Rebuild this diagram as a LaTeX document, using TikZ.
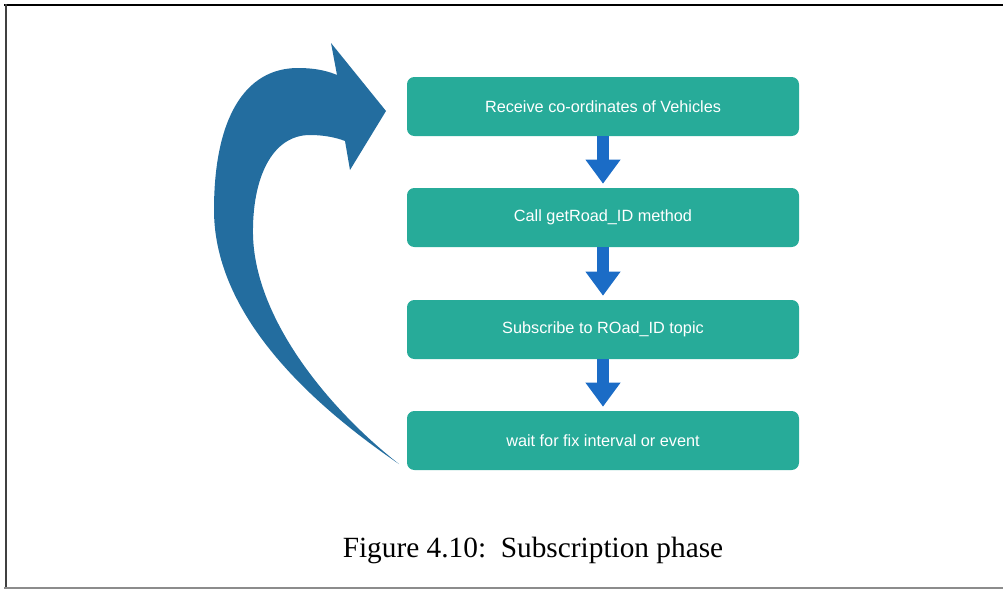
\documentclass[tikz,border=0pt]{standalone}
\usepackage{fontspec}
\setmainfont{Liberation Serif}
\newfontfamily\boxfont{Liberation Sans}
\usetikzlibrary{arrows.meta}
\definecolor{teal1}{HTML}{27AB99}
\definecolor{blue1}{HTML}{1B6CC6}
\definecolor{blue2}{HTML}{236D9F}
\tikzset{
  stepbox/.style={fill=teal1, draw=none, rounded corners=5.5pt, minimum width=294pt, minimum height=44.25pt, inner sep=0pt, text=white, font=\boxfont\fontsize{12.2}{14}\selectfont},
  flowarrow/.style={draw=blue1, line width=9pt, -{Triangle[length=18pt,width=25pt]}, shorten >=3pt},
}
\begin{document}
\begin{tikzpicture}[x=0.75pt,y=-0.75pt]
\useasboundingbox (0,0) rectangle (1003,589);
% frame
\draw[line width=1.5pt, black] (4,4.7) -- (1003,4.7);
\draw[line width=1.5pt, black!75] (5.5,4) -- (5.5,588.5);
\draw[line width=1.1pt, black!45] (4,588) -- (1003,588);
% boxes
\node[stepbox] (b1) at (603,106.5) {Receive co-ordinates of Vehicles};
\node[stepbox] (b2) at (603,217.5) {Call getRoad\_ID method};
\node[stepbox] (b3) at (603,329.5) {Subscribe to ROad\_ID topic};
\node[stepbox] (b4) at (603,440.5) {wait for fix interval or event};
% arrows
\draw[flowarrow] (b1.south) -- (b2.north);
\draw[flowarrow] (b2.south) -- (b3.north);
\draw[flowarrow] (b3.south) -- (b4.north);
% big curved arrow
\fill[blue2] (386,111) -- (331,43) -- (337,75)
  .. controls (330,72) and (318,68) .. (298,68)
  .. controls (245,68) and (214,118) .. (214,210)
  .. controls (214,320) and (320,410) .. (399,464)
  .. controls (330,410) and (255,320) .. (253,235)
  .. controls (252,178) and (272,135) .. (310,135)
  .. controls (322,135) and (335,137) .. (345,141)
  -- (350,170) -- cycle;
% caption
\node[font=\fontsize{22}{26}\selectfont] (cap) at (533,550) {Figure 4.10:\ \ Subscription phase};
\end{tikzpicture}
\end{document}
